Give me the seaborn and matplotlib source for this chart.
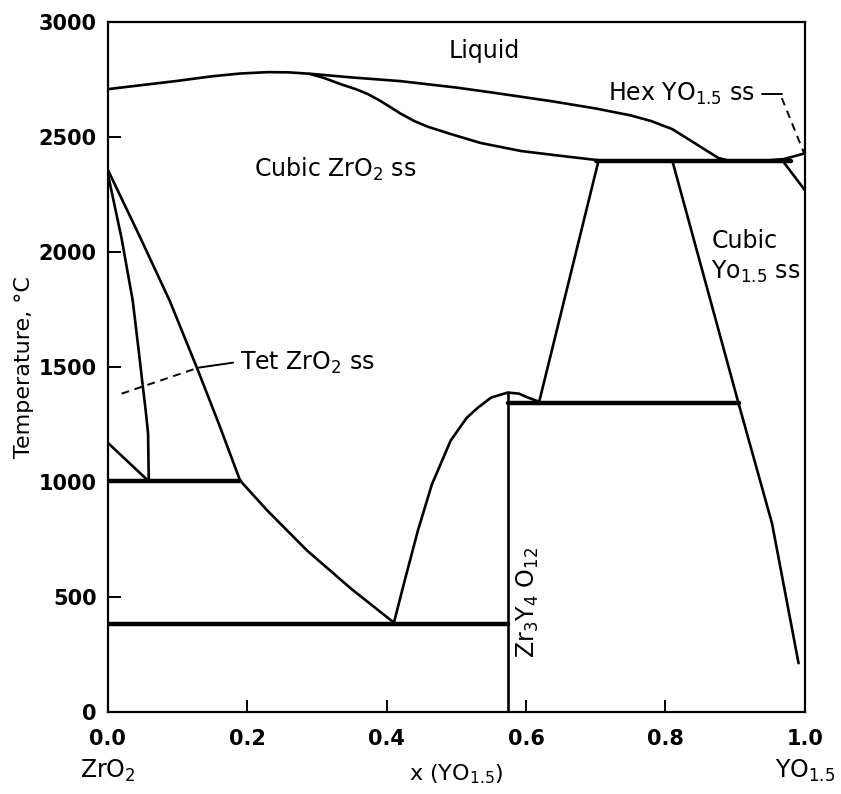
import matplotlib
matplotlib.use("Agg")
import matplotlib.pyplot as plt
import seaborn as sns

# ZrO2 - YO1.5 phase diagram, boundaries
liquidus_x = [0.0, 0.05, 0.10, 0.15, 0.19, 0.23, 0.26, 0.29, 0.35, 0.42, 0.50, 0.55, 0.636,
              0.70, 0.75, 0.78, 0.81, 0.837, 0.86, 0.876, 0.89, 0.905, 0.95, 0.97, 1.0]
liquidus_t = [2709, 2727, 2745, 2765, 2777, 2783, 2782, 2776, 2760, 2744, 2716, 2695, 2657,
              2625, 2595, 2570, 2535, 2484, 2440, 2410, 2399, 2397, 2400, 2405, 2430]

solidus_x = [0.29, 0.31, 0.334, 0.355, 0.373, 0.39, 0.406, 0.42, 0.44, 0.46, 0.492, 0.535, 0.593, 0.65, 0.704]
solidus_t = [2775, 2758, 2731, 2710, 2688, 2660, 2630, 2603, 2570, 2545, 2514, 2475, 2440, 2419, 2400]

cubic_zr_left_x = [0.0, 0.045, 0.089, 0.128, 0.16, 0.19, 0.229, 0.286, 0.35, 0.41]
cubic_zr_left_t = [2360, 2075, 1789, 1498, 1250, 1007, 877, 703, 535, 391]

tet_x = [0.0, 0.02, 0.036, 0.045, 0.05, 0.055, 0.058, 0.0585, 0.059]
tet_t = [2345, 2060, 1789, 1560, 1428, 1300, 1211, 1100, 1007]

mono_x = [0.0, 0.058]
mono_t = [1172, 1007]

dome_x = [0.41, 0.425, 0.445, 0.465, 0.492, 0.515, 0.531, 0.55, 0.574, 0.59, 0.603, 0.619]
dome_t = [382, 560, 790, 990, 1181, 1280, 1324, 1368, 1390, 1385, 1368, 1350]

cubic_zr_right_x = [0.704, 0.619]
cubic_zr_right_t = [2397, 1350]

cubic_y_x = [0.81, 0.905, 0.953, 0.991]
cubic_y_t = [2397, 1342, 820, 213]

compound_x = [0.574, 0.574]
compound_t = [0, 1390]

hex_x = [0.97, 1.0]
hex_t = [2390, 2270]

# isotherms: (x_start, x_end, temperature)
isotherms = [(0.0, 0.19, 1005), (0.0, 0.574, 382), (0.574, 0.905, 1345), (0.70, 0.98, 2395)]

x_ticks = [0.0, 0.2, 0.4, 0.6, 0.8, 1.0]
y_ticks = [0, 500, 1000, 1500, 2000, 2500, 3000]

sns.set_style("ticks")
plt.rcParams["font.family"] = ["DejaVu Sans"]
plt.rcParams["mathtext.fontset"] = "dejavusans"
plt.rcParams["text.color"] = "black"
plt.rcParams["axes.labelcolor"] = "black"
plt.rcParams["xtick.color"] = "black"
plt.rcParams["ytick.color"] = "black"

fig = plt.figure(figsize=(8.41, 7.94), dpi=100)
ax = fig.add_axes([0.128, 0.103, 0.829, 0.869])

thin = dict(color="black", linewidth=1.9, sort=False, estimator=None, ax=ax)
for xs, ts in [(liquidus_x, liquidus_t), (solidus_x, solidus_t),
               (cubic_zr_left_x, cubic_zr_left_t), (tet_x, tet_t),
               (mono_x, mono_t), (dome_x, dome_t),
               (cubic_zr_right_x, cubic_zr_right_t), (cubic_y_x, cubic_y_t),
               (compound_x, compound_t), (hex_x, hex_t)]:
    sns.lineplot(x=xs, y=ts, **thin)

for x0, x1, t in isotherms:
    sns.lineplot(x=[x0, x1], y=[t, t], color="black", linewidth=3.2, sort=False, estimator=None, ax=ax)

# leader lines for the small phase fields
ax.plot([0.02, 0.13], [1385, 1498], color="black", linewidth=1.4, linestyle=(0, (4, 3)))
ax.plot([0.13, 0.18], [1498, 1520], color="black", linewidth=1.4)
ax.plot([0.938, 0.967], [2688, 2688], color="black", linewidth=1.4)
ax.plot([0.967, 0.999], [2670, 2430], color="black", linewidth=1.4, linestyle=(0, (4, 3)))

fs = 17
ax.text(0.54, 2874, "Liquid", fontsize=fs, ha="center", va="center")
ax.text(0.327, 2362, r"Cubic ZrO$_2$ ss", fontsize=fs, ha="center", va="center")
ax.text(0.19, 1520, r"Tet ZrO$_2$ ss", fontsize=fs, ha="left", va="center")
ax.text(0.928, 2688, r"Hex YO$_{1.5}$ ss", fontsize=fs, ha="right", va="center")
ax.text(0.866, 2050, "Cubic", fontsize=fs, ha="left", va="center")
ax.text(0.866, 1915, r"Yo$_{1.5}$ ss", fontsize=fs, ha="left", va="center")
ax.text(0.603, 478, r"Zr$_3$Y$_4$ O$_{12}$", fontsize=fs, ha="center", va="center", rotation=90)

ax.set_xlim(0, 1.0)
ax.set_ylim(0, 3000)
ax.set_xticks(x_ticks)
ax.set_xticklabels([f"{v:.1f}" for v in x_ticks], fontsize=15, fontweight="bold")
ax.set_yticks(y_ticks)
ax.set_yticklabels([str(v) for v in y_ticks], fontsize=15, fontweight="bold")
ax.tick_params(direction="in", length=9, width=1.4, pad=8)
ax.tick_params(axis="x", pad=12)

for s in ax.spines.values():
    s.set_linewidth(1.6)
    s.set_color("black")

ax.set_ylabel("Temperature, °C", fontsize=16, labelpad=3)
ax.set_xlabel(r"x (YO$_{1.5}$)", fontsize=16, labelpad=10)
ax.text(0.0, -0.085, r"ZrO$_2$", transform=ax.transAxes, fontsize=17, ha="center", va="center")
ax.text(1.0, -0.085, r"YO$_{1.5}$", transform=ax.transAxes, fontsize=17, ha="center", va="center")

plt.savefig("out.png", dpi=100)
